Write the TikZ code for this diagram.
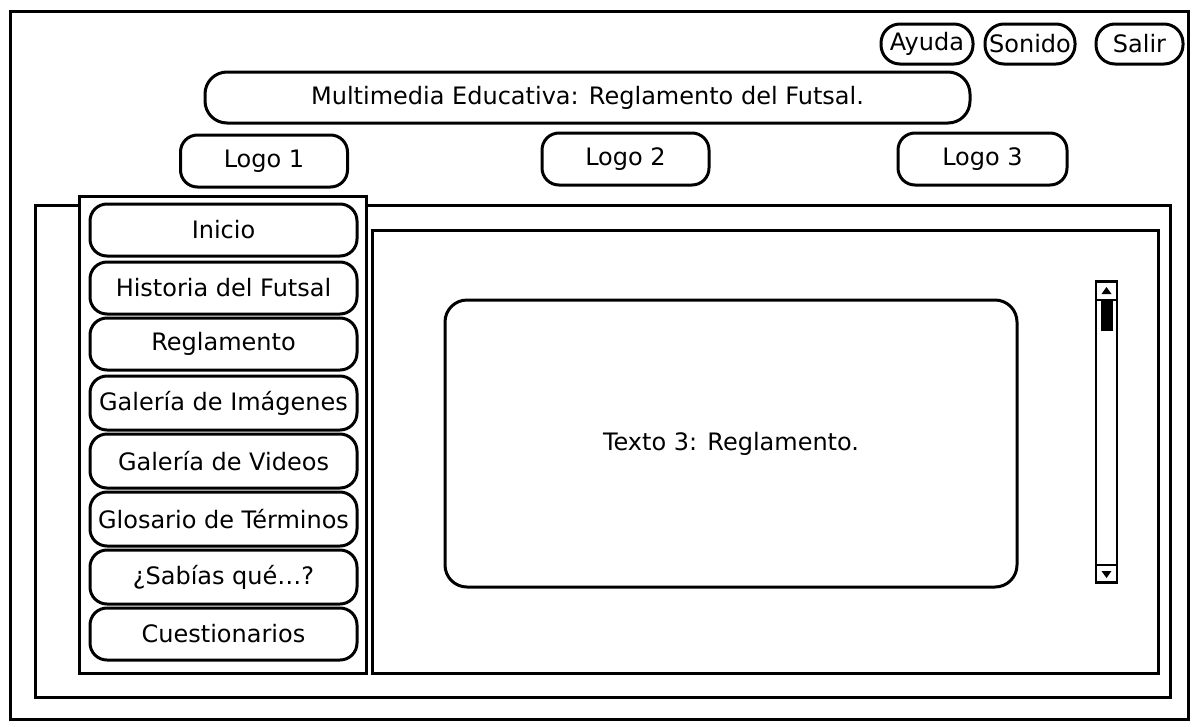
\documentclass[tikz,border=0pt]{standalone}
\usepackage{fontspec}
\setmainfont{DejaVu Sans}
\usetikzlibrary{calc}
\begin{document}
\begin{tikzpicture}[x=1pt,y=-1pt,
  every node/.style={font=\fontsize{24}{28}\selectfont, text=black},
  box/.style={draw, line width=3pt, inner sep=0pt},
  btn/.style={box, rounded corners=17pt},
  menubtn/.style={btn, minimum width=267pt, minimum height=52pt},
  logo/.style={btn, minimum width=167pt, minimum height=52pt},
  topbtn/.style={btn, rounded corners=19pt, minimum height=40pt},
  frame/.style={box, sharp corners}]
\useasboundingbox[fill=white] (0,0) rectangle (1196,726);
% frames
\node[frame, minimum width=1178pt, minimum height=708pt] (outer) at (599,365) {};
\node[frame, minimum width=1135pt, minimum height=492pt] (inner) at (602.5,451) {};
\node[frame, fill=white, minimum width=287pt, minimum height=477pt] (menu) at (222.5,434.5) {};
\node[frame, minimum width=786pt, minimum height=443pt] (content) at (765,451.5) {};
% top buttons
\node[topbtn, minimum width=92pt] (ayuda) at (927,44) {Ayuda};
\node[topbtn, minimum width=90pt] (sonido) at (1030,44) {Sonido};
\node[topbtn, minimum width=87pt] (salir) at (1139.5,44) {Salir};
% title
\node[btn, rounded corners=22pt, minimum width=765pt, minimum height=51pt] (title) at (587.5,97.5) {Multimedia Educativa: Reglamento del Futsal.};
% logos
\node[logo] (logo1) at (264,161) {Logo 1};
\node[logo] (logo2) at (625.5,159) {Logo 2};
\node[logo, minimum width=169pt] (logo3) at (982.5,159) {Logo 3};
% menu buttons
\node[menubtn] (m1) at (223.5,230) {Inicio};
\node[menubtn] (m2) at (223.5,288) {Historia del Futsal};
\node[menubtn] (m3) at (223.5,344) {Reglamento};
\node[menubtn, minimum height=54pt] (m4) at (223.5,403) {Galería de Imágenes};
\node[menubtn, minimum height=54pt] (m5) at (223.5,461) {Galería de Videos};
\node[menubtn, minimum height=54pt] (m6) at (223.5,519) {Glosario de Términos};
\node[menubtn, minimum height=54pt] (m7) at (223.5,577) {¿Sabías qué…?};
\node[menubtn] (m8) at (223.5,634) {Cuestionarios};
% text box
\node[btn, rounded corners=22pt, minimum width=572pt, minimum height=287pt] (textbox) at (731,443.5) {Texto 3: Reglamento.};
% scrollbar
\node[frame, line width=2.4pt, minimum width=21pt, minimum height=301pt] (track) at (1106.5,432) {};
\node[frame, line width=2.4pt, minimum width=21pt, minimum height=18pt] (up) at (1106.5,291) {};
\node[frame, line width=2.4pt, minimum width=21pt, minimum height=18pt] (down) at (1106.5,574) {};
\node[fill=black, inner sep=0pt, minimum width=12pt, minimum height=30pt] (thumb) at (1106.5,316) {};
\fill ($(up.center)+(-5,3)$) -- ($(up.center)+(5,3)$) -- ($(up.center)+(0,-4)$) -- cycle;
\fill ($(down.center)+(-5,-3)$) -- ($(down.center)+(5,-3)$) -- ($(down.center)+(0,4)$) -- cycle;
\end{tikzpicture}
\end{document}
